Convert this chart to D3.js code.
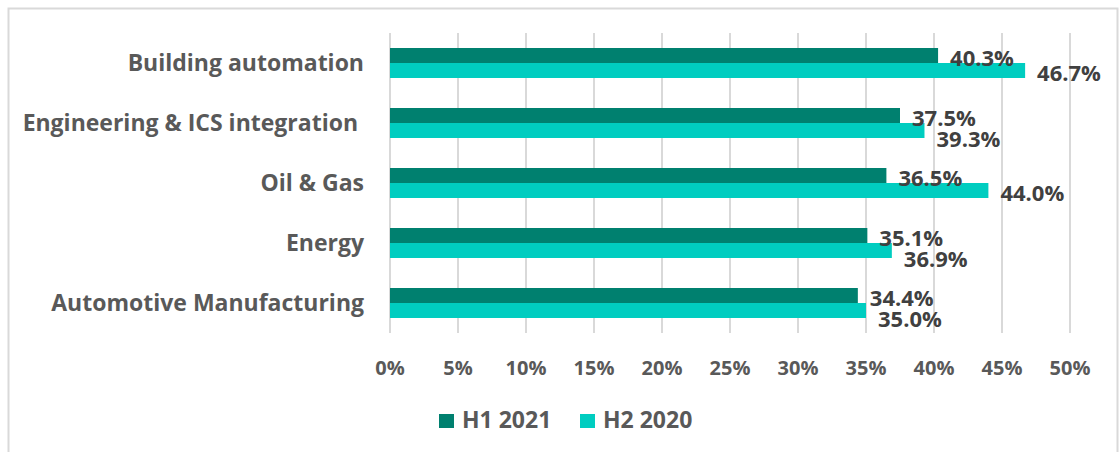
<!DOCTYPE html>
<html lang="en">
<head>
<meta charset="utf-8">
<title>Sectors</title>
<style>
body { margin: 0; background: #fff; font-family: "Open Sans", sans-serif; }
.grid line { stroke: #d9d9d9; stroke-width: 2; }
.lbl { fill: #595959; font-weight: 700; }
.val { fill: #404040; font-weight: 700; }
</style>
<script src="https://d3js.org/d3.v7.min.js"></script>
</head>
<body>
<div id="chart"></div>
<script>
const categories = ["Building automation", "Engineering & ICS integration ", "Oil & Gas", "Energy", "Automotive Manufacturing"];
const seriesNames = ["H1 2021", "H2 2020"];
const h1_2021 = [40.3, 37.5, 36.5, 35.1, 34.4];
const h2_2020 = [46.7, 39.3, 44.0, 36.9, 35.0];
const ticks = [0, 5, 10, 15, 20, 25, 30, 35, 40, 45, 50];
const colors = ["#00806f", "#00cdc0"];

const width = 1120, height = 452;
const svg = d3.select("#chart").append("svg")
    .attr("width", width)
    .attr("height", height);

// outer frame
svg.append("rect")
    .attr("x", 8.5).attr("y", 8.5)
    .attr("width", 1109).attr("height", 460)
    .attr("fill", "none").attr("stroke", "#d9d9d9").attr("stroke-width", 2);

const x = d3.scaleLinear().domain([0, 50]).range([390, 1070]);
const y = d3.scaleBand().domain(categories).range([33, 333]);
const inner = d3.scaleBand().domain(seriesNames).range([15, 45]);

// grid
svg.append("g").attr("class", "grid")
    .selectAll("line").data(ticks).enter().append("line")
    .attr("x1", d => x(d)).attr("x2", d => x(d))
    .attr("y1", 33).attr("y2", 333);

// tick labels
svg.append("g").selectAll("text").data(ticks).enter().append("text")
    .attr("class", "lbl")
    .attr("x", d => x(d)).attr("y", 375)
    .attr("text-anchor", "middle")
    .style("font-size", "20px")
    .text(d => d + "%");

// category labels
svg.append("g").selectAll("text").data(categories).enter().append("text")
    .attr("class", "lbl")
    .attr("x", 364)
    .attr("y", d => y(d) + y.bandwidth() / 2 + 8)
    .attr("text-anchor", "end")
    .attr("xml:space", "preserve")
    .style("font-size", "23px")
    .text(d => d);

const rows = [];
categories.forEach((c, i) => {
    rows.push({cat: c, s: seriesNames[0], v: h1_2021[i], k: 0, close: false});
    // light label gets pushed down when it would run into the dark one
    rows.push({cat: c, s: seriesNames[1], v: h2_2020[i], k: 1, close: h2_2020[i] - h1_2021[i] < 5});
});

svg.append("g").selectAll("rect").data(rows).enter().append("rect")
    .attr("x", x(0))
    .attr("y", d => y(d.cat) + inner(d.s))
    .attr("width", d => x(d.v) - x(0))
    .attr("height", inner.bandwidth())
    .attr("fill", d => colors[d.k]);

// value labels
svg.append("g").selectAll("text").data(rows).enter().append("text")
    .attr("class", "val")
    .attr("x", d => x(d.v) + 12)
    .attr("y", d => y(d.cat) + inner(d.s) + inner.bandwidth() / 2 + (d.close ? 16 : 10))
    .style("font-size", "22px")
    .text(d => d.v.toFixed(1) + "%");

// legend
const legend = svg.append("g");
const legX = [439, 580];
seriesNames.forEach((s, i) => {
    legend.append("rect")
        .attr("x", legX[i]).attr("y", 414)
        .attr("width", 15).attr("height", 14)
        .attr("fill", colors[i]);
    legend.append("text")
        .attr("class", "lbl")
        .attr("x", legX[i] + 23).attr("y", 428)
        .style("font-size", "23px")
        .text(s);
});
</script>
</body>
</html>
